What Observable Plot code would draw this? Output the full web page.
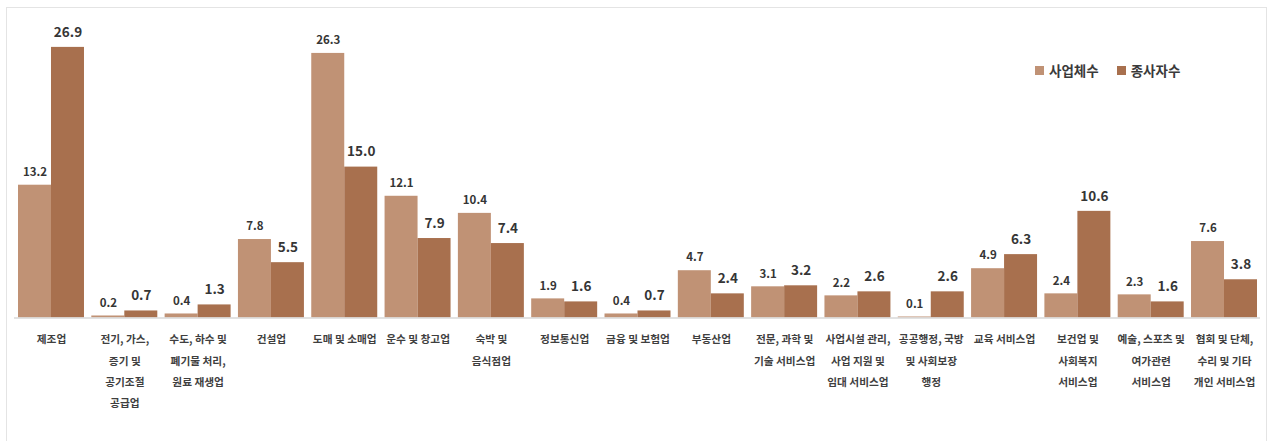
<!DOCTYPE html>
<html>
<head>
<meta charset="utf-8">
<script src="https://cdn.jsdelivr.net/npm/d3@7"></script>
<script src="https://cdn.jsdelivr.net/npm/@observablehq/plot@0.6"></script>
<style>
  html, body { margin: 0; padding: 0; background: #fff; }
  body { width: 1270px; height: 441px; position: relative; overflow: hidden;
         font-family: "Noto Sans CJK KR", "Noto Sans", sans-serif; }
  #frame { position: absolute; left: 6px; top: 7px; width: 1261px; height: 460px;
           border: 1px solid #e4e4e4; box-sizing: border-box; }
  #chart { position: absolute; left: 0; top: 0; }
  #legend { position: absolute; left: 1035px; top: 60px; display: flex; align-items: center;
            font-size: 13.5px; font-weight: 700; color: #3a3a3a; white-space: nowrap; }
  #legend .item { display: flex; align-items: center; margin-right: 18px; }
  #legend .sw { width: 9px; height: 9px; margin-right: 5px; }
</style>
</head>
<body>
<div id="frame"></div>
<div id="chart"></div>
<div id="legend"></div>
<script>
const categories = [
  "제조업",
  "전기, 가스,\n증기 및\n공기조절\n공급업",
  "수도, 하수 및\n폐기물 처리,\n원료 재생업",
  "건설업",
  "도매 및 소매업",
  "운수 및 창고업",
  "숙박 및\n음식점업",
  "정보통신업",
  "금융 및 보험업",
  "부동산업",
  "전문, 과학 및\n기술 서비스업",
  "사업시설 관리,\n사업 지원 및\n임대 서비스업",
  "공공행정, 국방\n및 사회보장\n행정",
  "교육 서비스업",
  "보건업 및\n사회복지\n서비스업",
  "예술, 스포츠 및\n여가관련\n서비스업",
  "협회 및 단체,\n수리 및 기타\n개인 서비스업"
];
const seriesNames = ["사업체수", "종사자수"];
const businesses = [13.2, 0.2, 0.4, 7.8, 26.3, 12.1, 10.4, 1.9, 0.4, 4.7, 3.1, 2.2, 0.1, 4.9, 2.4, 2.3, 7.6];
const workers    = [26.9, 0.7, 1.3, 5.5, 15.0, 7.9, 7.4, 1.6, 0.7, 2.4, 3.2, 2.6, 2.6, 6.3, 10.6, 1.6, 3.8];
const colors = ["#C09275", "#A8704E"];

const rowsA = categories.map((c, i) => ({category: c, value: businesses[i]}));
const rowsB = categories.map((c, i) => ({category: c, value: workers[i]}));

const W = 1270, H = 441;
const mL = 18, mR = 13, mT = 15.7, mB = 123.5;
const pad = 0.1;
const step = (W - mL - mR) / (categories.length - pad);
const half = step * (1 - pad) / 2;
const textColor = "#353535";
const font = "Noto Sans CJK KR";

const chart = Plot.plot({
  width: W,
  height: H,
  marginLeft: mL,
  marginRight: mR,
  marginTop: mT,
  marginBottom: mB,
  style: {fontFamily: font, background: "transparent", overflow: "visible"},
  x: {domain: categories, paddingInner: pad, paddingOuter: 0, round: false, axis: null},
  y: {domain: [0, 30], axis: null},
  marks: [
    Plot.barY(rowsA, {x: "category", y: "value", fill: colors[0], insetRight: half}),
    Plot.barY(rowsB, {x: "category", y: "value", fill: colors[1], insetLeft: half}),
    Plot.ruleY([0], {stroke: "#d9d9d9", strokeWidth: 1.5, insetLeft: -4, insetRight: -3}),
    Plot.text(rowsA, {x: "category", y: "value", text: d => d.value.toFixed(1), dx: -half / 2, dy: -13,
      fontSize: 11.5, fontWeight: 700, fill: textColor, lineAnchor: "middle"}),
    Plot.text(rowsB, {x: "category", y: "value", text: d => d.value.toFixed(1), dx: half / 2, dy: -15,
      fontSize: 13.5, fontWeight: 700, fill: textColor, lineAnchor: "middle"}),
    Plot.text(categories, {x: d => d, text: d => d, frameAnchor: "bottom", lineAnchor: "top",
      dy: 10.5, fontSize: 10.7, fontWeight: 700, lineHeight: 1.97, fill: "#3f3f3f"})
  ]
});
document.getElementById("chart").appendChild(chart);

const legend = document.getElementById("legend");
seriesNames.forEach((name, i) => {
  const item = document.createElement("div");
  item.className = "item";
  const sw = document.createElement("span");
  sw.className = "sw";
  sw.style.background = colors[i];
  const label = document.createElement("span");
  label.textContent = name;
  item.appendChild(sw);
  item.appendChild(label);
  legend.appendChild(item);
});
</script>
</body>
</html>
